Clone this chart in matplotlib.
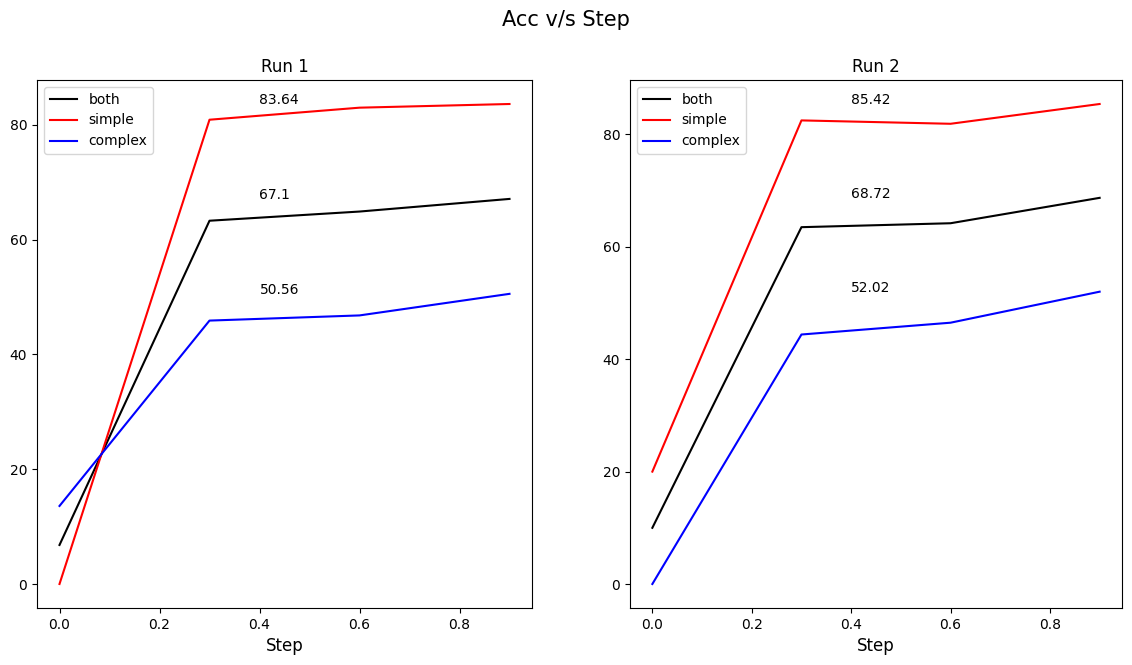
import matplotlib
matplotlib.use("Agg")
import matplotlib.pyplot as plt

steps = [0.0, 0.3, 0.6, 0.9]

run1_both = [6.8, 63.3, 64.9, 67.1]
run1_simple = [0.0, 80.9, 83.0, 83.64]
run1_complex = [13.6, 45.9, 46.8, 50.56]

run2_both = [10.0, 63.5, 64.2, 68.72]
run2_simple = [20.0, 82.5, 81.9, 85.42]
run2_complex = [0.0, 44.4, 46.5, 52.02]

runs = [
    ("Run 1", run1_both, run1_simple, run1_complex),
    ("Run 2", run2_both, run2_simple, run2_complex),
]

fig = plt.figure(figsize=(11.32, 6.65), dpi=100)
fig.suptitle("Acc v/s Step", fontsize=15, y=0.985)

# axes boxes in pixels: left, right
boxes = [(37, 532), (630, 1122)]
top, bottom = 80, 608

for (x0, x1), (title, both, simple, complex_) in zip(boxes, runs):
    ax = fig.add_axes([x0 / 1132, 1 - bottom / 665,
                       (x1 - x0) / 1132, (bottom - top) / 665])
    ax.plot(steps, both, color="black", label="both")
    ax.plot(steps, simple, color="red", label="simple")
    ax.plot(steps, complex_, color="blue", label="complex")
    for vals in (simple, both, complex_):
        ax.text(0.4, vals[-1], str(vals[-1]))
    ax.set_title(title)
    ax.set_xlabel("Step", fontsize=12)
    ax.legend(loc="upper left")

fig.savefig("out.png", dpi=100)
